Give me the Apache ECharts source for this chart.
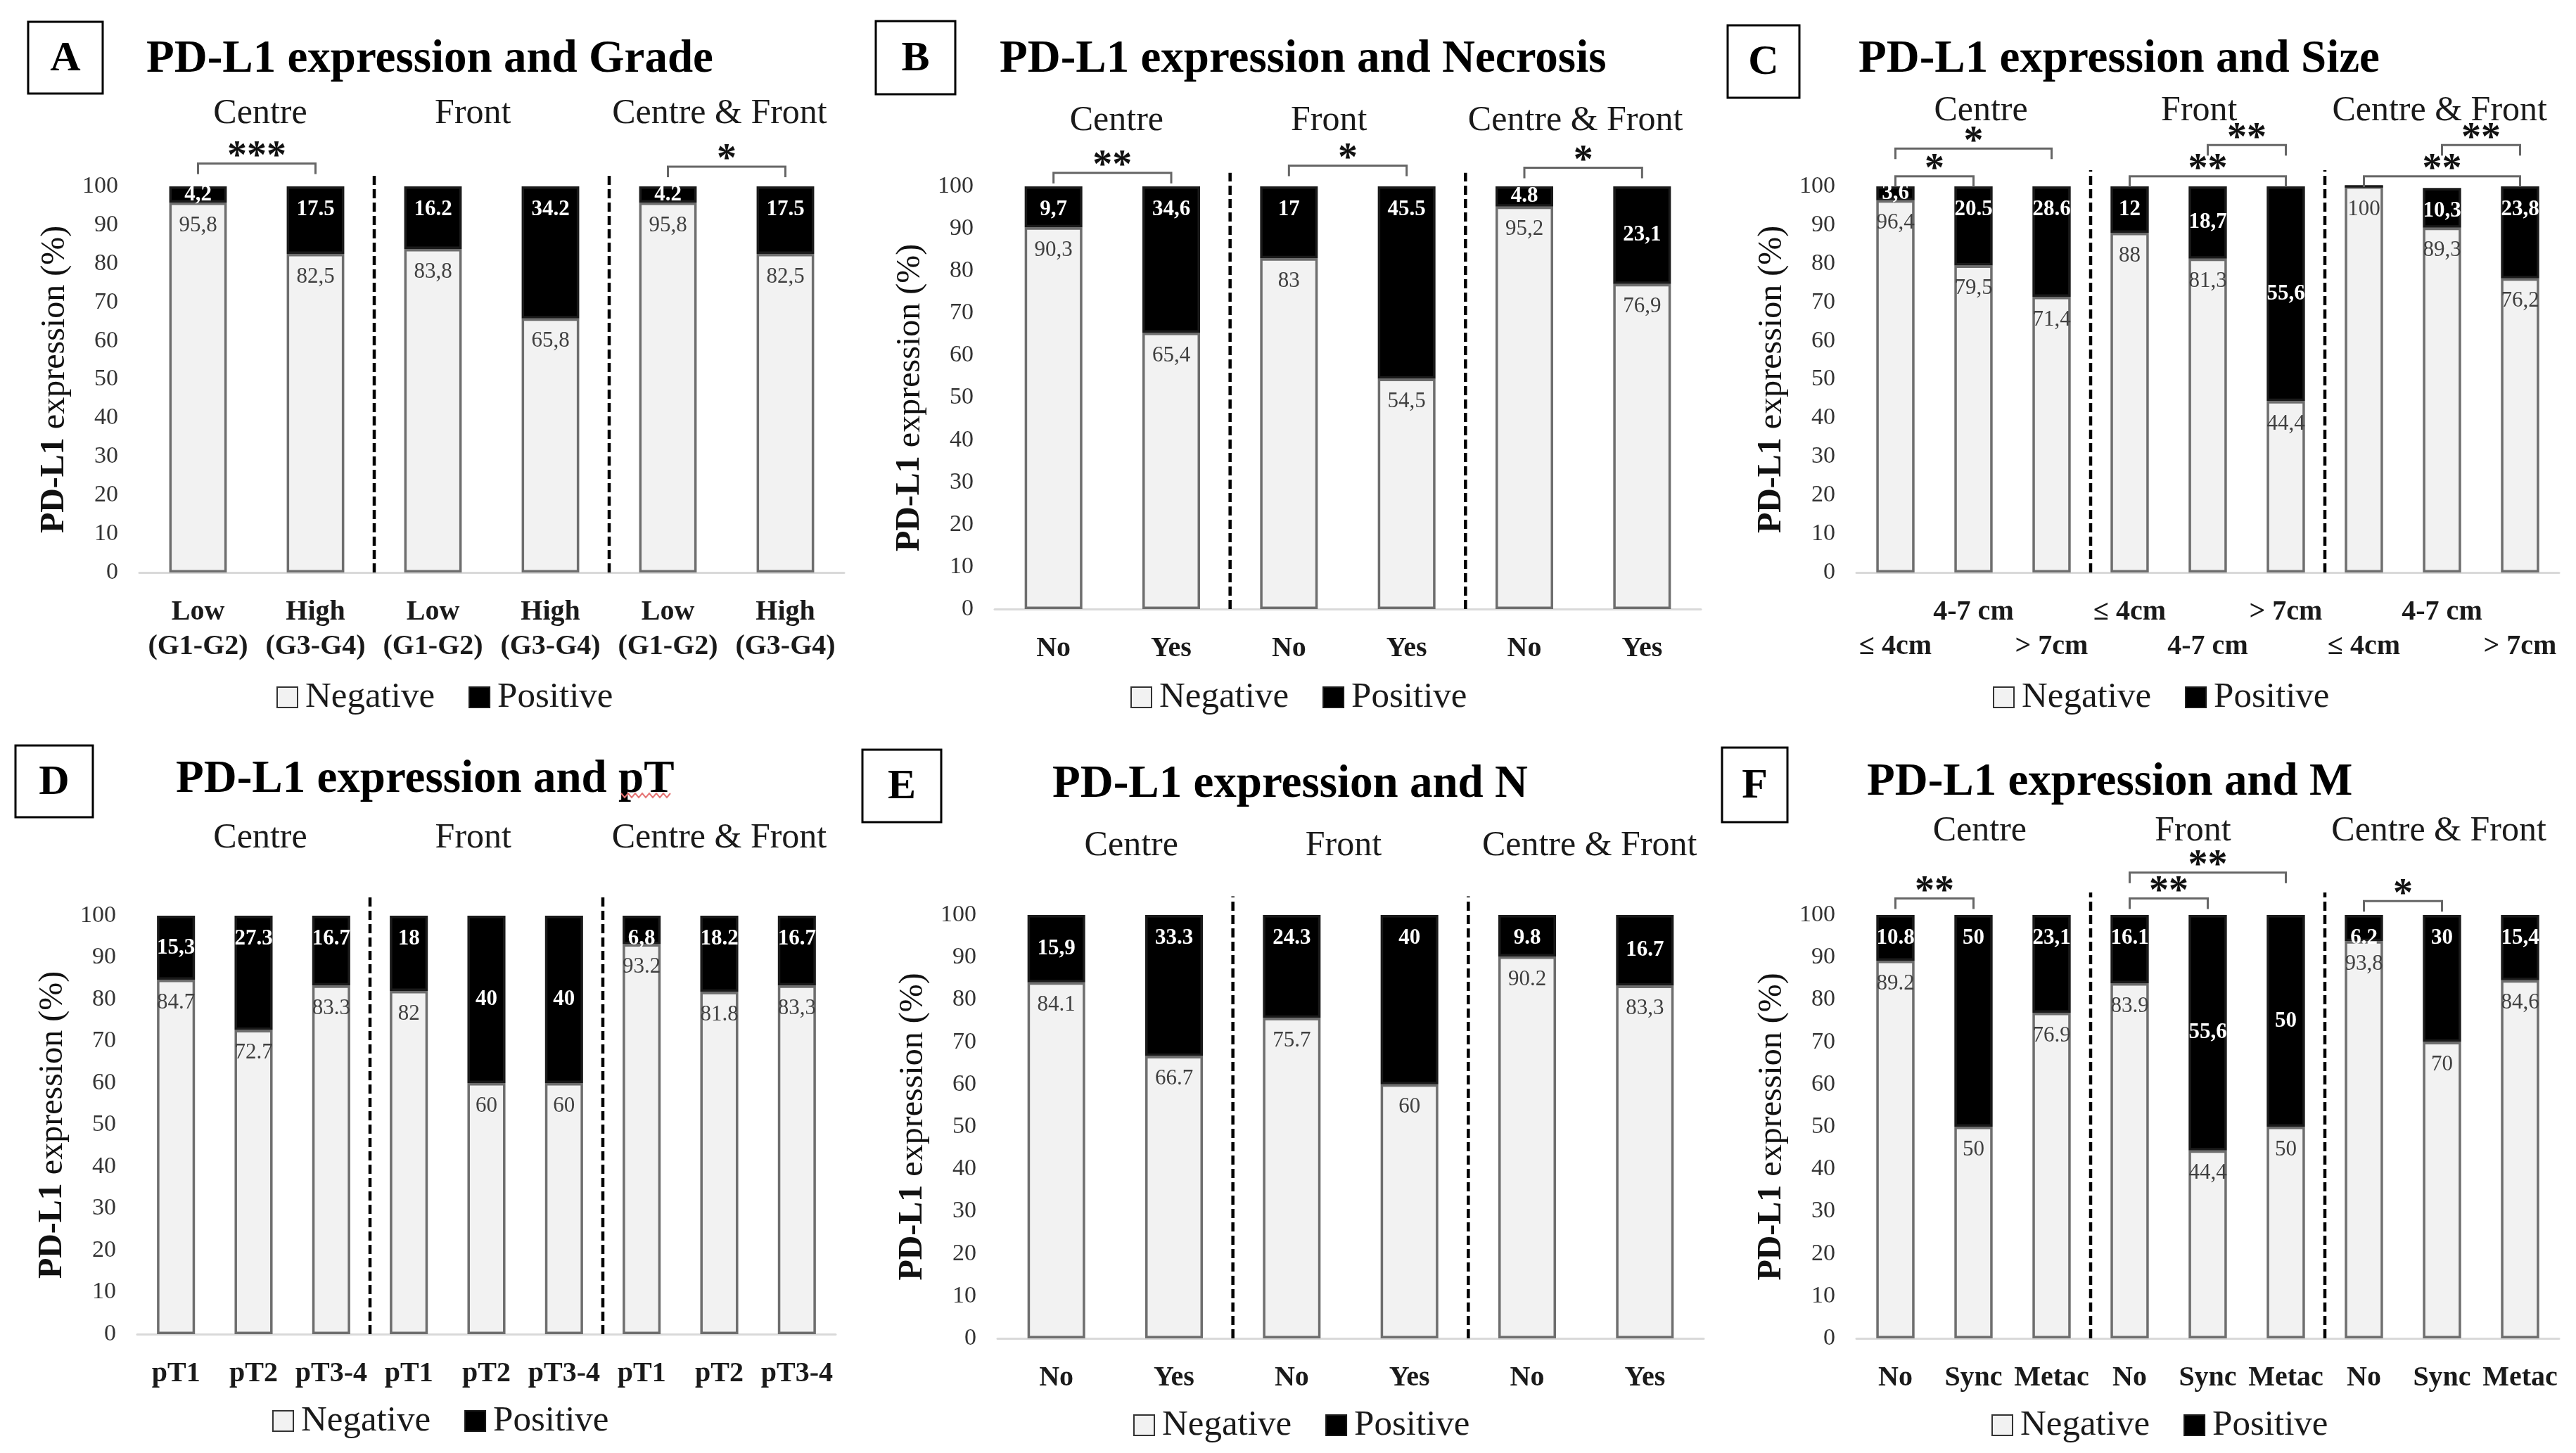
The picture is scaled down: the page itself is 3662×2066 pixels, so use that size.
<!DOCTYPE html>
<html><head><meta charset="utf-8">
<script src="https://cdn.jsdelivr.net/npm/echarts@6/dist/echarts.min.js"></script>
<style>html,body{margin:0;padding:0;background:#fff;}#c{width:3662px;height:2066px;}</style>
</head><body><div id="c"></div>
<script>
const FONT = '"Liberation Serif", "Times New Roman", serif';
const groupNames = ['Centre', 'Front', 'Centre & Front'];
const legendNames = ['Negative', 'Positive'];
const yTicks = { min: 0, max: 100, step: 10 };

// A - Grade
const gradeCats = ['Low\n(G1-G2)', 'High\n(G3-G4)'];
const gradeNeg = [95.8, 82.5, 83.8, 65.8, 95.8, 82.5];
const gradePos = [4.2, 17.5, 16.2, 34.2, 4.2, 17.5];
const gradeNegSep = ',,,,,,';
const gradePosSep = ',.....';
const gradeSig = [[0, 1, '***', 105.9], [4, 5, '*', 105.1]];

// B - Necrosis
const necCats = ['No', 'Yes'];
const necNeg = [90.3, 65.4, 83, 54.5, 95.2, 76.9];
const necPos = [9.7, 34.6, 17, 45.5, 4.8, 23.1];
const necNegSep = ',,,,,,';
const necPosSep = ',,,..,';
const necSig = [[0, 1, '**', 103.2], [2, 3, '*', 104.9], [4, 5, '*', 104.4]];

// C - Size
const sizeCats = ['\u2264 4cm', '4-7 cm', '> 7cm'];
const sizeNeg = [96.4, 79.5, 71.4, 88, 81.3, 44.4, 100, 89.3, 76.2];
const sizePos = [3.6, 20.5, 28.6, 12, 18.7, 55.6, 0, 10.3, 23.8];
const sizeNegSep = ',,,,,,,,,';
const sizePosSep = ',..,,,,,,';
const sizeSig = [[0, 2, '*', 109.8], [0, 1, '*', 102.6], [4, 5, '**', 110.7], [3, 5, '**', 102.6], [7, 8, '**', 110.7], [6, 8, '**', 102.6]];

// D - pT
const ptCats = ['pT1', 'pT2', 'pT3-4'];
const ptNeg = [84.7, 72.7, 83.3, 82, 60, 60, 93.2, 81.8, 83.3];
const ptPos = [15.3, 27.3, 16.7, 18, 40, 40, 6.8, 18.2, 16.7];
const ptNegSep = '........,';
const ptPosSep = ',.....,..';
const ptSig = [];

// E - N
const nCats = ['No', 'Yes'];
const nNeg = [84.1, 66.7, 75.7, 60, 90.2, 83.3];
const nPos = [15.9, 33.3, 24.3, 40, 9.8, 16.7];
const nNegSep = '.....,';
const nPosSep = ',.....';
const nSig = [];

// F - M
const mCats = ['No', 'Sync', 'Metac'];
const mNeg = [89.2, 50, 76.9, 83.9, 44.4, 50, 93.8, 70, 84.6];
const mPos = [10.8, 50, 23.1, 16.1, 55.6, 50, 6.2, 30, 15.4];
const mNegSep = '....,.,.,';
const mPosSep = '..,.,...,';
const mSig = [[0, 1, '**', 103.9], [3, 4, '**', 103.9], [3, 5, '**', 110], [6, 7, '*', 103.3]];

const panels = [
  { key: 'A', title: 'PD-L1 expression and Grade', cats: gradeCats, neg: gradeNeg, pos: gradePos, negSep: gradeNegSep, posSep: gradePosSep, sig: gradeSig },
  { key: 'B', title: 'PD-L1 expression and Necrosis', cats: necCats, neg: necNeg, pos: necPos, negSep: necNegSep, posSep: necPosSep, sig: necSig },
  { key: 'C', title: 'PD-L1 expression and Size', cats: sizeCats, neg: sizeNeg, pos: sizePos, negSep: sizeNegSep, posSep: sizePosSep, sig: sizeSig },
  { key: 'D', title: 'PD-L1 expression and pT', cats: ptCats, neg: ptNeg, pos: ptPos, negSep: ptNegSep, posSep: ptPosSep, sig: ptSig },
  { key: 'E', title: 'PD-L1 expression and N', cats: nCats, neg: nNeg, pos: nPos, negSep: nNegSep, posSep: nPosSep, sig: nSig },
  { key: 'F', title: 'PD-L1 expression and M', cats: mCats, neg: mNeg, pos: mPos, negSep: mNegSep, posSep: mPosSep, sig: mSig }
];

// layout (pixels) and label styling
const layout = {
  A: { grid: [198, 265, 1002, 549], box: [40, 31, 106, 102], title: [208, 85], legend: [393, 992], groupX: [0.53, 2.34, 4.44], groupY: 118.8, dashTop: 103.8, centered: [0, 4] },
  B: { grid: [1414, 265, 1004, 601], box: [1245, 30, 113, 104], title: [1421, 85], legend: [1607, 992], groupX: [0.536, 2.34, 4.434], groupY: 115.5, dashTop: 103.2, centered: [4, 5] },
  C: { grid: [2639, 265, 999, 549], box: [2456, 36, 102, 103], title: [2642, 85], legend: [2833, 992], groupX: [1.095, 3.89, 6.97], groupY: 119.5, dashTop: 104.2, centered: [0, 4, 5], stagger: true },
  D: { grid: [195, 1302, 993, 595], box: [22, 1060, 110, 102], title: [250, 1109], legend: [387, 2021], groupX: [1.086, 3.83, 7.0], groupY: 118.5, dashTop: 104.7, centered: [0, 4, 5], squiggle: [883, 957, 1131] },
  E: { grid: [1418, 1301, 1004, 602], box: [1226, 1066, 112, 103], title: [1496, 1116], legend: [1611, 2027], groupX: [0.637, 2.44, 4.53], groupY: 116.3, dashTop: 104.4, centered: [0, 5] },
  F: { grid: [2639, 1301, 999, 602], box: [2448, 1063, 93, 106], title: [2654, 1113], legend: [2831, 2027], groupX: [1.08, 3.81, 6.96], groupY: 119.8, dashTop: 105.3, centered: [4, 5] }
};

function fmt(v, s) {
  if (!v) return '';
  return String(v).replace('.', s && s !== '.' ? s : '.');
}

function makeDeco(p, L) {
  return function (params, api) {
    const c0 = api.coord([0, 0]);
    const c1 = api.coord([1, 0]);
    const bw = c1[0] - c0[0];
    const X = f => c0[0] + f * bw;
    const Y = v => api.coord([0, v])[1];
    const kids = [];
    const per = p.neg.length / 3;
    [per - 0.5, 2 * per - 0.5].forEach(f => kids.push({
      type: 'line', shape: { x1: X(f), y1: Y(0), x2: X(f), y2: Y(L.dashTop) },
      style: { stroke: '#000', lineWidth: 4.5, lineDash: [13, 6] }
    }));
    groupNames.forEach((g, k) => kids.push({
      type: 'text', x: X(L.groupX[k]), y: Y(L.groupY),
      style: { text: g, fontSize: 50, fontFamily: FONT, fill: '#1a1a1a', align: 'center', verticalAlign: 'middle' }
    }));
    p.sig.forEach(s => {
      const a = s[0], b = s[1], t = s[2], v = s[3];
      const yT = Y(v);
      kids.push({
        type: 'polyline',
        shape: { points: [[X(a), yT + 15], [X(a), yT], [X(b), yT], [X(b), yT + 15]] },
        style: { stroke: '#666', lineWidth: 3, fill: null }
      });
      kids.push({
        type: 'text', x: X((a + b) / 2), y: yT - 8,
        style: { text: t, fontSize: 56, fontWeight: 'bold', fontFamily: FONT, fill: '#111', align: 'center', verticalAlign: 'middle' }
      });
    });
    return { type: 'group', children: kids };
  };
}

const option = { animation: false, backgroundColor: '#fff', grid: [], xAxis: [], yAxis: [], series: [], legend: [], graphic: [] };

panels.forEach((p, i) => {
  const L = layout[p.key];
  const xData = [].concat(p.cats, p.cats, p.cats);
  option.grid.push({ left: L.grid[0], top: L.grid[1], width: L.grid[2], height: L.grid[3] });
  option.xAxis.push({
    type: 'category', gridIndex: i, data: xData,
    axisLine: { lineStyle: { color: '#d9d9d9', width: 3 } },
    axisTick: { show: false },
    axisLabel: {
      interval: 0, margin: 32, fontSize: 40, lineHeight: 49, fontWeight: 'bold', fontFamily: FONT, color: '#1a1a1a',
      formatter: L.stagger ? function (v, idx) { return idx % 2 === 0 ? '\n' + v : v; } : '{value}'
    }
  });
  option.yAxis.push({
    type: 'value', gridIndex: i, min: yTicks.min, max: yTicks.max, interval: yTicks.step,
    axisLine: { show: false }, axisTick: { show: false }, splitLine: { show: false },
    axisLabel: { fontSize: 34, fontFamily: FONT, color: '#333', margin: 30 },
    name: '{b|PD-L1} expression (%)', nameLocation: 'middle', nameGap: 96,
    nameTextStyle: { fontSize: 48, fontFamily: FONT, color: '#111', rich: { b: { fontSize: 48, fontFamily: FONT, fontWeight: 'bold', color: '#111' } } }
  });
  option.series.push({
    name: 'Negative', type: 'bar', xAxisIndex: i, yAxisIndex: i, stack: 's' + i, barWidth: '49%',
    data: p.neg,
    itemStyle: { color: '#f2f2f2', borderColor: '#6e6e6e', borderWidth: 3.5 },
    label: {
      show: true, position: 'insideTop', distance: 17, fontSize: 31, fontFamily: FONT, color: '#404040', textBorderWidth: 0,
      formatter: prm => fmt(prm.value, p.negSep[prm.dataIndex])
    }
  });
  option.series.push({
    name: 'Positive', type: 'bar', xAxisIndex: i, yAxisIndex: i, stack: 's' + i, barWidth: '49%',
    data: p.pos.map((v, k) => L.centered.indexOf(k) >= 0 ? { value: v, label: { position: 'inside' } } : v),
    itemStyle: { color: '#000', borderColor: '#1a1a1a', borderWidth: 3.5 },
    label: {
      show: true, position: 'insideTop', distance: 17, fontSize: 31, fontWeight: 'bold', fontFamily: FONT, color: '#fff', textBorderWidth: 0,
      formatter: prm => fmt(prm.value, p.posSep[prm.dataIndex])
    }
  });
  option.series.push({
    type: 'custom', xAxisIndex: i, yAxisIndex: i, data: [[0, 0]], silent: true, z: 5, clip: false,
    renderItem: makeDeco(p, L)
  });
  option.legend.push({
    left: L.legend[0], top: L.legend[1] - 26, orient: 'horizontal', padding: 0,
    itemWidth: 29, itemHeight: 29, itemGap: 48, icon: 'rect', selectedMode: false,
    data: [
      { name: legendNames[0], itemStyle: { color: '#f2f2f2', borderColor: '#333', borderWidth: 2 } },
      { name: legendNames[1], itemStyle: { color: '#000' } }
    ],
    textStyle: { fontSize: 51, fontFamily: FONT, color: '#1a1a1a', padding: [0, 0, 0, 6] }
  });
  const b = L.box;
  option.graphic.push({ type: 'rect', shape: { x: b[0], y: b[1], width: b[2], height: b[3] }, style: { fill: '#fff', stroke: '#000', lineWidth: 3 } });
  option.graphic.push({ type: 'text', x: b[0] + b[2] / 2, y: b[1] + b[3] / 2 + 2, style: { text: p.key, fontSize: 60, fontWeight: 'bold', fontFamily: FONT, fill: '#000', align: 'center', verticalAlign: 'middle' } });
  option.graphic.push({ type: 'text', x: L.title[0], y: L.title[1], style: { text: p.title, fontSize: 65, fontWeight: 'bold', fontFamily: FONT, fill: '#000', align: 'left', verticalAlign: 'middle' } });
  if (L.squiggle) {
    const q = L.squiggle, pts = [];
    for (let x = q[0], k = 0; x <= q[1]; x += 5, k++) pts.push([x, q[2] + (k % 2 ? 3 : -3)]);
    option.graphic.push({ type: 'polyline', shape: { points: pts }, style: { stroke: '#e57373', lineWidth: 2, fill: null } });
  }
});

const chart = echarts.init(document.getElementById('c'), null, { renderer: 'canvas' });
chart.setOption(option);
</script>
</body></html>
